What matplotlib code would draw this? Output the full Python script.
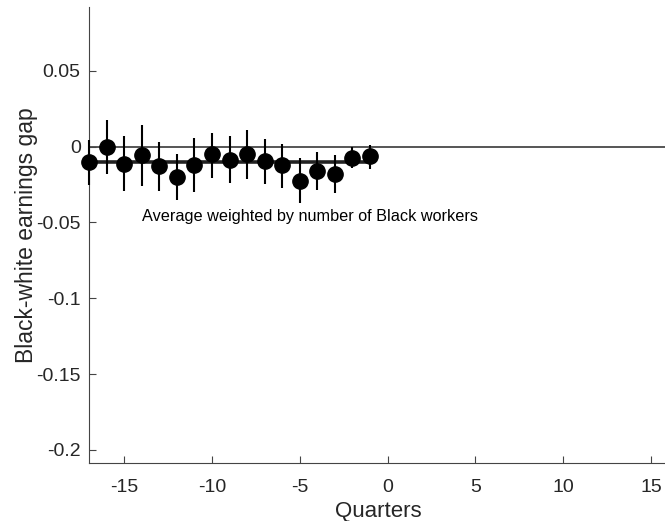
import matplotlib.pyplot as plt
import numpy as np

plt.rcParams['font.family'] = ['Liberation Sans', 'DejaVu Sans']

# event-time coefficients for the Black-white earnings gap
quarters = np.arange(-17, 0)
gap = [-0.0102, -0.0003, -0.0112, -0.0053, -0.0130, -0.0200, -0.0119, -0.0051,
       -0.0086, -0.0046, -0.0095, -0.0123, -0.0225, -0.0163, -0.0178, -0.0073, -0.0064]
ci_hi = [0.0046, 0.0178, 0.0068, 0.0140, 0.0030, -0.0050, 0.0057, 0.0092,
         0.0070, 0.0108, 0.0053, 0.0020, -0.0073, -0.0038, -0.0057, 0.0000, 0.0013]
ci_lo = [-0.0256, -0.0183, -0.0293, -0.0257, -0.0293, -0.0350, -0.0300, -0.0205,
         -0.0240, -0.0211, -0.0244, -0.0270, -0.0372, -0.0288, -0.0306, -0.0143, -0.0145]
avg_gap = -0.0105

gap = np.array(gap)
yerr = [gap - np.array(ci_lo), np.array(ci_hi) - gap]

fig = plt.figure(figsize=(6.65, 5.21), dpi=100)
ax = fig.add_axes([89 / 665, 57.7 / 521, 579.6 / 665, 456.3 / 521])

ax.axhline(0, color='#555555', lw=1.4, zorder=1)
ax.plot([quarters[0], quarters[-1]], [avg_gap, avg_gap], color='#222222', lw=2.6,
        zorder=2, clip_on=False)
eb = ax.errorbar(quarters, gap, yerr=yerr, fmt='o', color='black', ms=11,
                 elinewidth=1.5, capsize=0, zorder=3)
for artist in eb.get_children():
    artist.set_clip_on(False)

ax.text(-14, -0.046, 'Average weighted by number of Black workers',
        fontsize=11.7, color='black', va='center', ha='left')

ax.set_xlim(-17, 16)
ax.set_ylim(-0.2088, 0.092)
ax.set_xticks([-15, -10, -5, 0, 5, 10, 15])
ax.set_yticks([-0.2, -0.15, -0.1, -0.05, 0, 0.05])
ax.set_yticklabels(['-0.2', '-0.15', '-0.1', '-0.05', '0', '0.05'])
ax.set_xticklabels(['-15', '-10', '-5', '0', '5', '10', '15'])

for s in ['top', 'right']:
    ax.spines[s].set_visible(False)
for s in ['left', 'bottom']:
    ax.spines[s].set_color('#444444')
    ax.spines[s].set_linewidth(0.8)
ax.tick_params(direction='in', length=5, width=0.8, color='#444444',
               labelsize=14, labelcolor='#262626')
ax.tick_params(axis='x', pad=11)
ax.tick_params(axis='y', pad=6)

ax.set_xlabel('Quarters', fontsize=16, color='#262626', labelpad=4)
ax.set_ylabel('Black-white earnings gap', fontsize=16.5, color='#262626', labelpad=-1)

fig.savefig('out.png', dpi=100)
